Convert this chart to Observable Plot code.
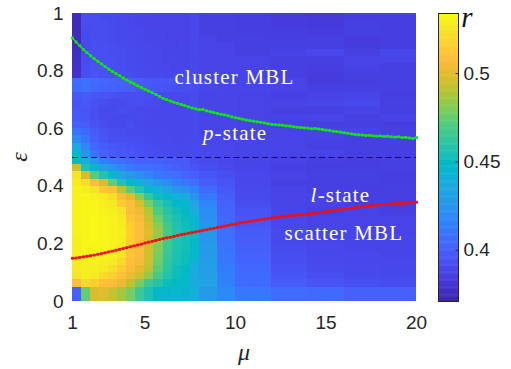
<!DOCTYPE html>
<html><head><meta charset="utf-8">
<script src="https://cdn.jsdelivr.net/npm/d3@7"></script>
<script src="https://cdn.jsdelivr.net/npm/@observablehq/plot@0.6"></script>
<style>
body{margin:0;background:#fff;}
#wrap{position:relative;width:511px;height:369px;overflow:hidden;}
#wrap svg{position:absolute;top:0;overflow:visible;}
</style></head><body><div id="wrap"></div>
<script>
// ---- data ----
const muEdges = [1,1.5,2,2.5,3,3.5,4,4.5,5,5.5,6,6.5,7,7.5,8,9,10,12,14,16,18,20];
const epsEdges = [1,0.975,0.95,0.925,0.9,0.875,0.85,0.825,0.8,0.775,0.75,0.725,0.7,0.675,0.65,0.625,0.6,0.575,0.55,0.525,0.5,
  0.475,0.45,0.425,0.4,0.375,0.35,0.325,0.3,0.275,0.25,0.225,0.2,0.175,0.15,0.125,0.1,0.075,0.05,0.025,0];
// r (x1000), rows from eps=1 (top) down to eps=0, columns follow muEdges
const rRows = [
[374,392,392,391,391,389,389,388,388,387,387,387,387,389,386,386,385,384,383,385,385],
[374,392,392,392,391,390,389,388,388,387,387,387,387,389,386,386,385,384,383,386,385],
[374,391,392,392,391,390,389,389,388,388,387,387,387,389,386,386,385,385,384,386,385],
[375,391,392,392,391,390,390,389,388,388,387,387,388,389,387,386,386,385,386,384,385],
[375,390,393,393,392,391,390,389,389,388,388,387,388,389,387,387,386,386,386,384,385],
[376,390,393,393,392,392,391,390,389,389,388,388,388,389,387,387,386,387,389,386,389],
[376,391,393,393,393,392,391,390,389,389,388,388,388,389,388,387,387,386,386,387,388],
[377,392,394,394,393,392,391,390,390,389,389,388,388,389,388,387,387,386,385,387,386],
[378,393,395,394,393,393,392,391,390,390,389,389,389,390,388,388,387,386,384,386,386],
[405,408,406,404,403,401,400,398,397,396,395,394,393,393,390,389,388,387,384,385,386],
[404,407,404,402,401,400,399,397,396,395,394,393,392,392,389,388,388,387,386,386,386],
[396,398,396,395,394,393,392,393,392,391,390,390,390,391,388,388,387,386,387,388,385],
[395,397,394,392,391,391,392,393,391,390,389,389,389,391,388,388,387,387,388,390,386],
[396,395,393,390,391,392,391,390,389,389,389,389,389,390,388,388,387,386,386,387,386],
[397,396,393,391,390,390,390,391,390,389,389,389,389,390,388,388,387,387,388,386,387],
[400,398,394,392,390,391,392,390,389,389,389,389,389,390,388,388,387,386,386,386,385],
[409,404,398,394,392,392,391,391,390,390,389,389,389,390,388,388,387,387,387,387,386],
[419,409,400,396,393,393,392,392,391,390,390,389,389,390,389,388,388,387,387,386,386],
[433,417,404,399,396,395,394,393,392,391,391,390,390,391,389,389,388,387,386,386,386],
[445,425,409,402,398,396,395,394,393,392,391,391,390,391,390,389,388,387,387,386,386],
[450,438,425,414,410,407,404,401,401,401,398,398,398,393,391,389,388,387,386,385,386],
[494,455,445,430,425,417,412,408,408,406,403,400,398,395,393,390,388,386,385,385,386],
[524,497,471,457,447,433,428,422,417,411,409,407,403,400,396,393,389,387,386,386,385],
[528,522,508,497,474,457,447,439,433,426,421,414,411,407,399,395,389,386,386,386,385],
[530,529,524,512,508,489,472,457,446,440,432,426,424,416,405,397,390,387,386,385,386],
[530,532,530,528,522,508,499,480,462,451,445,440,436,425,411,399,391,387,387,386,386],
[530,532,532,529,527,514,507,497,478,463,454,447,444,432,417,401,392,388,387,386,386],
[530,532,532,530,529,524,507,503,490,470,458,452,447,438,421,402,394,388,386,387,386],
[530,532,533,532,530,527,512,506,494,476,462,454,450,444,422,404,395,389,387,387,387],
[530,532,533,532,530,528,515,508,498,482,466,456,452,447,425,405,396,389,388,387,387],
[530,532,533,532,530,529,516,508,499,484,468,457,453,448,426,407,398,390,388,388,387],
[529,532,533,532,530,528,515,508,497,482,466,456,453,448,426,408,399,390,388,388,388],
[529,532,532,532,530,527,514,507,496,480,465,456,453,447,428,409,400,391,389,388,388],
[529,530,532,530,529,524,511,506,495,478,463,455,452,446,428,410,401,392,389,389,388],
[528,530,530,529,527,520,508,504,494,476,462,454,451,442,429,411,402,393,390,389,389],
[527,529,529,527,522,514,506,500,491,473,460,452,449,438,430,413,404,394,391,390,389],
[524,528,527,520,516,509,502,495,483,468,457,451,447,437,430,414,405,396,393,391,390],
[509,520,516,509,508,502,491,478,465,457,451,448,445,437,432,415,406,398,395,393,392],
[400,474,497,499,493,486,478,464,455,448,445,444,443,440,428,418,410,406,405,400,400],
[400,474,497,499,493,486,478,464,455,448,445,444,443,440,428,418,410,406,405,400,400]
];
// boundary curves, sampled every 0.2 in mu from 1 to 20
const lineMu = d3.range(96).map(i => +(1 + 0.2 * i).toFixed(1));
const greenEps = [.915,.901,.888,.875,.864,.853,.843,.834,.825,.816,
 .807,.799,.791,.784,.776,.769,.762,.756,.749,.743,
 .737,.731,.725,.719,.712,.705,.701,.696,.692,.688,
 .684,.680,.676,.672,.669,.666,.667,.662,.659,.656,
 .653,.650,.648,.645,.641,.638,.636,.633,.630,.628,
 .626,.624,.622,.620,.617,.615,.614,.613,.612,.610,
 .609,.607,.605,.604,.603,.602,.600,.601,.599,.597,
 .595,.594,.591,.590,.588,.586,.584,.582,.580,.579,
 .578,.576,.577,.575,.574,.575,.573,.574,.572,.571,
 .572,.569,.570,.568,.566,.569];
const redEps = [.150,.151,.153,.155,.157,.159,.161,.164,.166,.169,
 .172,.175,.178,.181,.184,.187,.190,.193,.196,.199,
 .203,.206,.209,.212,.215,.218,.221,.223,.226,.229,
 .232,.234,.237,.239,.242,.244,.247,.249,.252,.254,
 .257,.259,.262,.264,.267,.269,.272,.274,.276,.278,
 .280,.282,.284,.286,.288,.290,.292,.293,.295,.296,
 .298,.299,.300,.301,.303,.304,.305,.306,.308,.310,
 .312,.314,.316,.318,.319,.321,.323,.324,.326,.328,
 .329,.331,.332,.333,.335,.336,.337,.338,.339,.340,
 .341,.341,.342,.343,.344,.345];
const dashEps = [0.5];
const labelText = ["cluster MBL", "p-state", "l-state", "scatter MBL"];
const labelMu = [9.95, 9.98, 15.8, 15.99];
const labelEps = [0.778, 0.583, 0.369, 0.236];
const xTicks = [1, 5, 10, 15, 20];
const yTicks = [0, 0.2, 0.4, 0.6, 0.8, 1];
const cbTicks = [0.4, 0.45, 0.5];
const rMin = 0.371, rMax = 0.534;

// parula colormap stops
const parulaT = [0,3,5,7,9,11,14,16,18,21,24,26,28,30,32,35,38,40,42,44,46,49,51,53,55,57,59,61,63].map(i => i / 63);
const parulaC = ["#3e26a8","#4432cb","#463cde","#4747eb","#4852f4","#465efb","#3e6fff","#327cfc","#2e87f7","#2796eb",
 "#20a5e3","#18addb","#08b5d0","#02bac3","#19bfb6","#31c69f","#4acb84","#64cd6f","#81cc59","#9dc943",
 "#b9c431","#dcbd29","#f0ba36","#febe3c","#fec934","#fad62d","#f5e327","#f6ef20","#f9fb15"];
const colorOpts = {type: "linear", domain: parulaT.map(t => rMin + t * (rMax - rMin)), range: parulaC, interpolate: "rgb", clamp: true};

// ---- tables ----
const cells = [];
rRows.forEach((row, k) => row.forEach((v, c) => cells.push({x1: muEdges[c], x2: muEdges[c + 1], y1: epsEdges[k + 1], y2: epsEdges[k], r: v / 1000})));
const green = lineMu.map((m, i) => ({mu: m, eps: greenEps[i]}));
const red = lineMu.map((m, i) => ({mu: m, eps: redEps[i]}));
const labels = labelText.map((t, i) => ({t, mu: labelMu[i], eps: labelEps[i]}));

const GREEN = "#12e612", RED = "#f01010";
const sans = "'Liberation Sans', Arial, Helvetica, sans-serif";
const serif = "'Liberation Serif', 'Times New Roman', serif";

const main = Plot.plot({
  width: 511, height: 369,
  marginLeft: 72, marginRight: 95, marginTop: 13, marginBottom: 68,
  style: {fontFamily: sans, fontSize: "19px", color: "#262626", background: "transparent"},
  x: {domain: [1, 20]},
  y: {domain: [0, 1]},
  color: colorOpts,
  marks: [
    Plot.rect(cells, {x1: "x1", x2: "x2", y1: "y1", y2: "y2", fill: "r", shapeRendering: "crispEdges"}),
    Plot.ruleY(dashEps, {stroke: "#111", strokeWidth: 1, strokeDasharray: "6,3.5"}),
    Plot.line(green, {x: "mu", y: "eps", stroke: GREEN, strokeWidth: 1.5}),
    Plot.dot(green, {x: "mu", y: "eps", symbol: "square", r: 1.6, fill: GREEN}),
    Plot.line(red, {x: "mu", y: "eps", stroke: RED, strokeWidth: 1.5}),
    Plot.dot(red, {x: "mu", y: "eps", symbol: "square", r: 1.6, fill: RED}),
    Plot.text(labels, {x: "mu", y: "eps", text: "t", fill: "white", fontSize: 21, className: "serif-label"}),
    Plot.axisX({ticks: xTicks, tickSize: 0, tickPadding: 14, tickFormat: d => String(d), label: null, fontSize: 19}),
    Plot.axisY({ticks: yTicks, tickSize: 0, tickPadding: 9, tickFormat: d => String(d), label: null, fontSize: 19})
  ]
});
const ms = d3.select(main);
// serif labels, italic p / l in state labels
ms.selectAll(".serif-label text").each(function () {
  const s = d3.select(this);
  s.style("font-family", serif).style("letter-spacing", "1.2px");
  const t = this.textContent;
  if (t === "p-state" || t === "l-state") {
    s.text(null);
    s.append("tspan").style("font-style", "italic").text(t[0]);
    s.append("tspan").text(t.slice(1));
  }
});
ms.append("text").attr("x", 244).attr("y", 360).attr("text-anchor", "middle")
  .style("font-family", serif).style("font-style", "italic").style("font-size", "24px").attr("fill", "#262626").text("μ");
ms.append("text").attr("transform", "translate(27,157) rotate(-90)").attr("text-anchor", "middle")
  .style("font-family", serif).style("font-style", "italic").style("font-size", "24px").attr("fill", "#262626").text("ε");

// colorbar
const cbLevels = d3.range(rMin, rMax, 0.0005);
const cb = Plot.plot({
  width: 80, height: 369,
  marginLeft: 7, marginRight: 53, marginTop: 13, marginBottom: 68,
  style: {fontFamily: sans, fontSize: "19px", color: "#262626", background: "transparent"},
  x: {domain: [0, 1], axis: null},
  y: {domain: [rMin, rMax]},
  color: colorOpts,
  marks: [
    Plot.rect(cbLevels, {x1: 0, x2: 1, y1: d => d, y2: d => Math.min(rMax, d + 0.0008), fill: d => d}),
    Plot.ruleY(cbTicks, {x1: 0.88, x2: 1, stroke: "#262626", strokeWidth: 1}),
    Plot.frame({stroke: "#262626", strokeWidth: 1}),
    Plot.axisY({anchor: "right", ticks: cbTicks, tickSize: 0, tickPadding: 5, tickFormat: d => String(d), label: null, fontSize: 19})
  ]
});
d3.select(cb).append("text").attr("x", 36).attr("y", 27).style("font-family", serif).style("font-style", "italic")
  .style("font-size", "29px").attr("fill", "#111").text("r");

const wrap = document.getElementById("wrap");
main.style.left = "0px";
cb.style.left = "431px";
wrap.appendChild(main);
wrap.appendChild(cb);
</script></body></html>
